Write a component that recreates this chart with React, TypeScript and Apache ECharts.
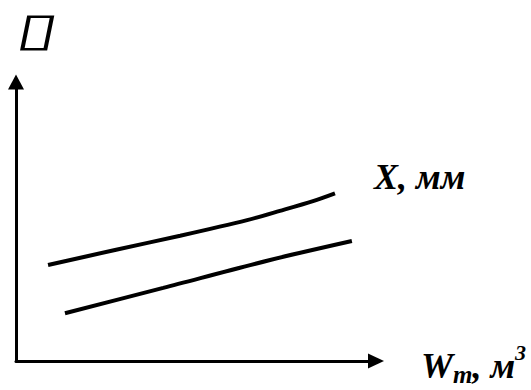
import React, { useEffect, useRef } from "react";
import * as echarts from "echarts";

// Upper curve X (мм) vs W_m (м³) (arbitrary units 0..100)
const upperX = [8.9, 27.5, 45.6, 64.2, 73.3, 82.5, 88.6];
const upperY = [34.4, 39.8, 44.9, 50.5, 53.8, 57.3, 60.1];
// Lower curve
const lowerX = [13.6, 40.9, 70.6, 93.3];
const lowerY = [17.1, 26.2, 36.2, 43.0];

const seriesLabel = "X, мм";
const xAxisName = "{a|W}{s|m}{a|, м}{p|3}";
const yAxisGlyph = "▯";

const serif = "'Liberation Serif', 'Times New Roman', serif";

export default function App() {
  const ref = useRef<HTMLDivElement>(null);
  useEffect(() => {
    if (!ref.current) return;
    const chart = echarts.init(ref.current, null, { renderer: "svg" });
    const toPairs = (xs: number[], ys: number[]) => xs.map((x, i) => [x, ys[i]]);
    chart.setOption({
      animation: false,
      backgroundColor: "#ffffff",
      grid: { left: 16, right: 155, top: 82, bottom: 29 },
      xAxis: {
        type: "value",
        min: 0,
        max: 100,
        name: xAxisName,
        nameLocation: "end",
        nameGap: 45,
        nameTextStyle: {
          padding: [10, 0, 0, 0],
          rich: {
            a: { fontFamily: serif, fontSize: 36, fontWeight: "bold", fontStyle: "italic", color: "#000" },
            s: { fontFamily: serif, fontSize: 25, fontWeight: "bold", fontStyle: "italic", color: "#000", padding: [16, 0, 0, 0] },
            p: { fontFamily: serif, fontSize: 22, fontWeight: "bold", fontStyle: "italic", color: "#000", padding: [0, 0, 27, 0] },
          },
        },
        axisLine: {
          lineStyle: { color: "#000", width: 3 },
          symbol: ["none", "triangle"],
          symbolSize: [15, 16],
        },
        axisTick: { show: false },
        axisLabel: { show: false },
        splitLine: { show: false },
      },
      yAxis: {
        type: "value",
        min: 0,
        max: 100,
        axisLine: {
          show: true,
          lineStyle: { color: "#000", width: 3 },
          symbol: ["none", "triangle"],
          symbolSize: [16, 15],
        },
        axisTick: { show: false },
        axisLabel: { show: false },
        splitLine: { show: false },
      },
      graphic: [
        {
          type: "text",
          x: 38,
          y: 29,
          skewX: -0.2,
          scaleX: 1.6,
          style: {
            text: yAxisGlyph,
            fontFamily: "'DejaVu Sans', sans-serif",
            fontSize: 46,
            lineHeight: 36,
            fill: "#000",
            align: "center",
            verticalAlign: "middle",
          },
        },
        {
          type: "text",
          x: 374,
          y: 177,
          style: {
            text: seriesLabel,
            fontFamily: serif,
            fontSize: 36,
            fontWeight: "bold",
            fontStyle: "italic",
            fill: "#000",
            verticalAlign: "middle",
            align: "left",
          },
        },
      ],
      series: [
        {
          type: "line",
          name: seriesLabel,
          data: toPairs(upperX, upperY),
          smooth: 0.3,
          symbol: "none",
          lineStyle: { color: "#000", width: 4, cap: "butt" },
        },
        {
          type: "line",
          data: toPairs(lowerX, lowerY),
          smooth: 0.3,
          symbol: "none",
          lineStyle: { color: "#000", width: 4, cap: "butt" },
        },
      ],
    });
    return () => chart.dispose();
  }, []);
  return <div ref={ref} style={{ width: 531, height: 390, position: "fixed", left: 0, top: 0 }} />;
}
